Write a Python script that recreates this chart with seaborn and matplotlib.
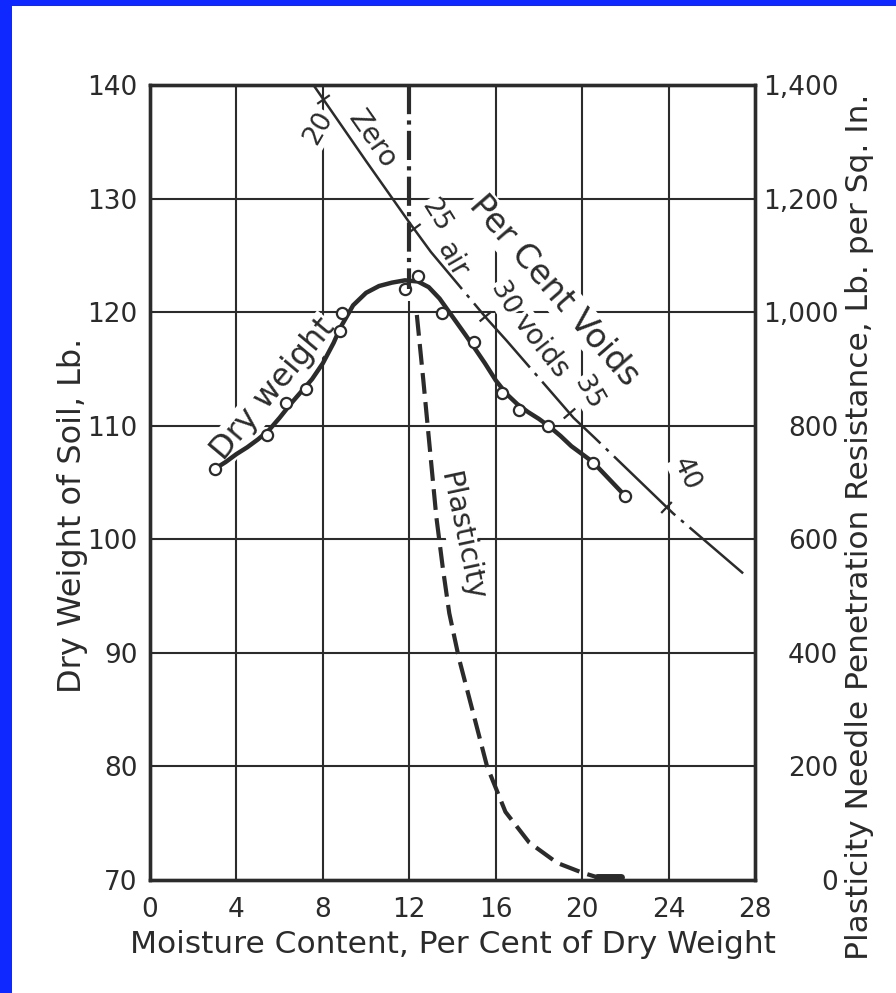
import numpy as np
import pandas as pd
import matplotlib
matplotlib.use("Agg")
import matplotlib.pyplot as plt
import seaborn as sns
from matplotlib.patches import Rectangle

# ---------------- data ----------------
# Dry weight curve (left axis, lb) - smooth line
dw_curve_x = [3.0, 3.5, 4.0, 4.5, 5.0, 5.5, 6.0, 6.5, 7.0, 7.5, 8.0, 8.5, 8.8, 9.4, 10.0, 10.6, 11.2, 11.8,
              12.4, 12.9, 13.4, 14.0, 14.6, 15.0, 15.5, 16.0, 16.5, 17.0, 17.5, 18.0, 18.5, 19.0, 19.5,
              20.0, 20.5, 21.0, 21.5, 22.0]
dw_curve_y = [106.2, 106.8, 107.5, 108.1, 108.8, 109.6, 110.7, 111.9, 113.0, 114.1, 115.5, 117.3, 118.6,
              120.6, 121.7, 122.3, 122.6, 122.8, 122.7, 122.2, 121.2, 119.6, 118.0, 116.9, 115.5, 114.0,
              112.8, 111.9, 111.2, 110.6, 109.9, 109.1, 108.2, 107.5, 106.8, 105.8, 104.8, 103.8]
# Dry weight test points (circles)
dw_pts_x = [3.0, 5.4, 6.3, 7.2, 8.8, 8.9, 11.8, 12.4, 13.5, 15.0, 16.3, 17.1, 18.4, 20.5, 22.0]
dw_pts_y = [106.2, 109.2, 112.0, 113.2, 118.3, 119.9, 122.0, 123.2, 119.9, 117.4, 112.9, 111.4, 110.0, 106.7, 103.8]

# Zero air voids line (left axis, lb)
zav_x = [7.6, 10.0, 12.0, 13.0, 15.6, 16.5, 19.6, 20.6, 24.2, 27.45]
zav_y = [139.9, 133.3, 127.9, 125.3, 119.4, 117.5, 110.7, 108.9, 102.3, 97.0]
# Per cent voids marks along the line
void_tick_x = [8.0, 12.2, 15.5, 19.4, 23.9]
void_labels = ["20", "25", "30", "35", "40"]

# Plasticity needle penetration resistance (right axis, lb per sq in)
plast_top_x = [12.0, 12.0]
plast_top_y = [1400, 1040]
plast_x = [12.35, 12.65, 12.95, 13.25, 13.55, 13.85, 14.3, 14.95, 15.6, 16.45, 17.55, 18.85, 20.0, 20.6]
plast_y = [995, 880, 760, 640, 550, 470, 390, 295, 200, 120, 66, 30, 13, 6]
plast_end_x = [20.7, 21.8]
plast_end_y = [5, 5]

x_ticks = [0, 4, 8, 12, 16, 20, 24, 28]
left_ticks = [70, 80, 90, 100, 110, 120, 130, 140]
right_ticks = [0, 200, 400, 600, 800, 1000, 1200, 1400]
right_tick_labels = ["0", "200", "400", "600", "800", "1,000", "1,200", "1,400"]

# ---------------- figure ----------------
sns.set_theme(style="white")
plt.rcParams["font.family"] = ["DejaVu Sans"]

ink = "#2b2b2b"
W, H = 896, 993
fig = plt.figure(figsize=(W / 100, H / 100), dpi=100)
fig.patch.set_facecolor("white")
blue = "#0f28ff"
fig.patches.append(Rectangle((0, 0), 12 / W, 1, transform=fig.transFigure,
                             facecolor=blue, edgecolor="none", zorder=20))
fig.patches.append(Rectangle((0, 1 - 6 / H), 1, 6 / H, transform=fig.transFigure,
                             facecolor=blue, edgecolor="none", zorder=20))

left, right, top, bottom = 150, 755, 85, 880
ax = fig.add_axes([left / W, 1 - bottom / H, (right - left) / W, (bottom - top) / H])
ax.set_facecolor("none")
ax.set_xlim(0, 28)
ax.set_ylim(70, 140)

# grid
for xv in x_ticks[1:-1]:
    if xv == 12:
        ax.vlines(xv, 70, 121, color=ink, lw=1.5, zorder=1)
    else:
        ax.vlines(xv, 70, 140, color=ink, lw=1.5, zorder=1)
for yv in left_ticks[1:-1]:
    ax.hlines(yv, 0, 28, color=ink, lw=1.5, zorder=1)

ax2 = ax.twinx()
ax2.set_ylim(0, 1400)

# zero air voids line
zav = pd.DataFrame({"x": zav_x, "y": zav_y})
solid = zav[zav.x <= 12.0]
rest = zav[zav.x >= 12.0]
sns.lineplot(data=solid, x="x", y="y", ax=ax, sort=False, estimator=None, color=ink, lw=1.8, zorder=3)
l2 = sns.lineplot(data=rest, x="x", y="y", ax=ax, sort=False, estimator=None, color=ink, lw=1.8, zorder=3)
l2.lines[-1].set_dashes((34, 3, 1.5, 3))
# perpendicular tick marks on the voids line
for tx in void_tick_x:
    ty = np.interp(tx, zav_x, zav_y)
    i = np.searchsorted(zav_x, tx)
    i = min(max(i, 1), len(zav_x) - 1)
    slope = (zav_y[i] - zav_y[i - 1]) / (zav_x[i] - zav_x[i - 1])
    ang = np.degrees(np.arctan(slope * (795 / 70) / (605 / 28)))
    ax.plot([tx], [ty], marker=(2, 0, ang), ms=11, mew=1.6, color=ink, zorder=3)

# dry weight curve and points
dwc = pd.DataFrame({"x": dw_curve_x, "y": dw_curve_y})
sns.lineplot(data=dwc, x="x", y="y", ax=ax, sort=False, estimator=None, color=ink, lw=3.2, zorder=4)
dwp = pd.DataFrame({"x": dw_pts_x, "y": dw_pts_y})
sns.scatterplot(data=dwp, x="x", y="y", ax=ax, s=65, marker="o", facecolor="white",
                edgecolor=ink, linewidth=1.6, zorder=5)

# plasticity
pt = pd.DataFrame({"x": plast_top_x, "y": plast_top_y})
lt = sns.lineplot(data=pt, x="x", y="y", ax=ax2, sort=False, estimator=None, color=ink, lw=3.0, zorder=3)
lt.lines[-1].set_dashes((7, 1.5, 1, 1.5))
pc = pd.DataFrame({"x": plast_x, "y": plast_y})
lc = sns.lineplot(data=pc, x="x", y="y", ax=ax2, sort=False, estimator=None, color=ink, lw=3.0, zorder=3)
lc.lines[-1].set_dashes((5, 2))
pe = pd.DataFrame({"x": plast_end_x, "y": plast_end_y})
sns.lineplot(data=pe, x="x", y="y", ax=ax2, sort=False, estimator=None, color=ink, lw=5, zorder=3)

# annotations (white boxes break the grid lines as in the original drawing)
box = dict(boxstyle="square,pad=0.05", facecolor="white", edgecolor="none")
tk = dict(color=ink, ha="center", va="center", zorder=2, bbox=box)
ax.text(5.7, 113.2, "Dry weight", fontsize=23, rotation=50, **tk)
ax.text(7.8, 136.2, "20", fontsize=19, rotation=60, **tk)
ax.text(10.3, 135.2, "Zero", fontsize=20, rotation=-55, **tk)
ax.text(13.25, 128.5, "25", fontsize=19, rotation=-58, **tk)
ax.text(14.0, 124.6, "air", fontsize=20, rotation=-60, **tk)
ax.text(16.4, 121.2, "30", fontsize=19, rotation=-60, **tk)
ax.text(18.1, 117.0, "voids", fontsize=20, rotation=-52, **tk)
ax.text(20.3, 112.9, "35", fontsize=19, rotation=-60, **tk)
ax.text(24.8, 105.7, "40", fontsize=19, rotation=-65, **tk)
ax.text(18.7, 121.9, "Per Cent Voids", fontsize=24, rotation=-49, **tk)
ax.text(14.4, 100.3, "Plasticity", fontsize=21, rotation=-78, **tk)

# axes styling
for a in (ax, ax2):
    for s in a.spines.values():
        s.set_color(ink)
        s.set_linewidth(2.4)
ax.set_xticks(x_ticks)
ax.set_yticks(left_ticks)
ax2.set_yticks(right_ticks)
ax2.set_yticklabels(right_tick_labels)
ax.tick_params(axis="both", length=0, labelsize=19, colors=ink)
ax.tick_params(axis="x", pad=12)
ax.tick_params(axis="y", pad=9)
ax2.tick_params(axis="y", length=0, labelsize=19, colors=ink, pad=60)
for lab in ax2.get_yticklabels():
    lab.set_horizontalalignment("right")
ax.set_xlabel("Moisture Content, Per Cent of Dry Weight", fontsize=22.5, color=ink)
ax.set_ylabel("Dry Weight of Soil, Lb.", fontsize=23, color=ink)
ax2.set_ylabel("Plasticity Needle Penetration Resistance, Lb. per Sq. In.", fontsize=22.5, color=ink)
ax.xaxis.set_label_coords(0.5, -0.063)
ax.yaxis.set_label_coords(-0.102, 0.459)
ax2.yaxis.set_label_coords(1.148, 0.444)
ax.grid(False)
ax2.grid(False)

fig.savefig("out.png", dpi=100, facecolor="white")
